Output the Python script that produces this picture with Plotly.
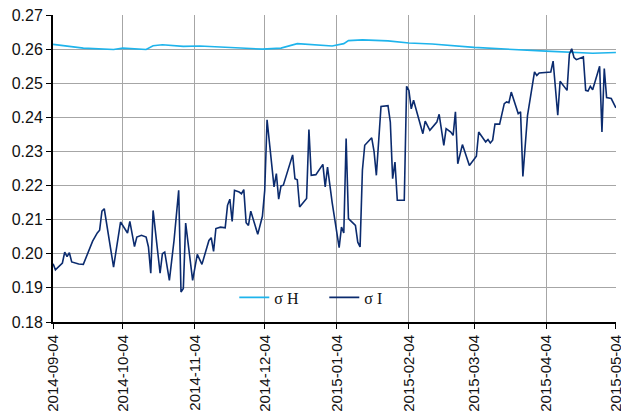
import plotly.graph_objects as go

# sigma H (smooth series)
h_dates = ["2014-09-04", "2014-09-17", "2014-09-30", "2014-10-04", "2014-10-14", "2014-10-17",
           "2014-10-21", "2014-10-30", "2014-11-06", "2014-11-20", "2014-12-03", "2014-12-11",
           "2014-12-18", "2015-01-02", "2015-01-07", "2015-01-09", "2015-01-15", "2015-01-26",
           "2015-02-04", "2015-02-14", "2015-03-04", "2015-04-04", "2015-04-14", "2015-04-24",
           "2015-05-04"]
h_values = [0.2614, 0.2603, 0.2599, 0.2603, 0.2599, 0.2610,
            0.2613, 0.2608, 0.2609, 0.2604, 0.2600, 0.2603,
            0.2616, 0.2609, 0.2616, 0.2625, 0.2627, 0.2624,
            0.2618, 0.2615, 0.2605, 0.2594, 0.2591, 0.2588,
            0.2590]

# sigma I (volatile series)
i_dates = ["2014-09-04", "2014-09-05", "2014-09-08", "2014-09-09", "2014-09-10", "2014-09-11",
           "2014-09-12", "2014-09-15", "2014-09-17", "2014-09-21", "2014-09-23", "2014-09-24",
           "2014-09-25", "2014-09-26", "2014-09-30", "2014-10-03", "2014-10-06", "2014-10-07",
           "2014-10-09", "2014-10-10", "2014-10-12", "2014-10-14", "2014-10-15", "2014-10-16",
           "2014-10-17", "2014-10-20", "2014-10-21", "2014-10-22", "2014-10-24", "2014-10-26",
           "2014-10-28", "2014-10-29", "2014-10-30", "2014-10-31", "2014-11-03", "2014-11-05",
           "2014-11-07", "2014-11-10", "2014-11-11", "2014-11-12", "2014-11-13", "2014-11-15",
           "2014-11-17", "2014-11-18", "2014-11-19", "2014-11-20", "2014-11-21", "2014-11-23",
           "2014-11-24", "2014-11-25", "2014-11-26", "2014-11-27", "2014-11-28", "2014-11-29",
           "2014-12-01", "2014-12-03", "2014-12-04", "2014-12-05", "2014-12-08", "2014-12-09",
           "2014-12-10", "2014-12-11", "2014-12-12", "2014-12-16", "2014-12-17", "2014-12-18",
           "2014-12-19", "2014-12-22", "2014-12-23", "2014-12-24", "2014-12-26", "2014-12-29",
           "2014-12-30", "2014-12-31", "2015-01-02", "2015-01-05", "2015-01-06", "2015-01-07",
           "2015-01-08", "2015-01-09", "2015-01-12", "2015-01-13", "2015-01-14", "2015-01-15",
           "2015-01-16", "2015-01-19", "2015-01-20", "2015-01-21", "2015-01-23", "2015-01-26",
           "2015-01-27", "2015-01-28", "2015-01-29", "2015-01-30", "2015-02-02", "2015-02-03",
           "2015-02-04", "2015-02-05", "2015-02-06", "2015-02-10", "2015-02-11", "2015-02-13",
           "2015-02-16", "2015-02-17", "2015-02-19", "2015-02-20", "2015-02-22", "2015-02-23",
           "2015-02-24", "2015-02-25", "2015-02-27", "2015-03-02", "2015-03-05", "2015-03-06",
           "2015-03-08", "2015-03-09", "2015-03-10", "2015-03-11", "2015-03-12", "2015-03-13",
           "2015-03-15", "2015-03-17", "2015-03-18", "2015-03-19", "2015-03-20", "2015-03-23",
           "2015-03-24", "2015-03-25", "2015-03-27", "2015-03-28", "2015-03-30", "2015-03-31",
           "2015-04-01", "2015-04-06", "2015-04-07", "2015-04-09", "2015-04-10", "2015-04-13",
           "2015-04-14", "2015-04-15", "2015-04-16", "2015-04-17", "2015-04-20", "2015-04-21",
           "2015-04-22", "2015-04-23", "2015-04-24", "2015-04-27", "2015-04-28", "2015-04-29",
           "2015-04-30", "2015-05-02", "2015-05-04"]
i_values = [0.1971, 0.1953, 0.1973, 0.2005, 0.1992, 0.2003,
            0.1976, 0.1970, 0.1969, 0.2037, 0.2061, 0.2069,
            0.2125, 0.2132, 0.1961, 0.2093, 0.2061, 0.2095,
            0.2021, 0.2049, 0.2054, 0.2049, 0.2020, 0.1943,
            0.2127, 0.1943, 0.2000, 0.2005, 0.1922, 0.2039,
            0.2186, 0.1888, 0.1898, 0.2090, 0.1922, 0.1998,
            0.1969, 0.2039, 0.2047, 0.2007, 0.2074, 0.2078,
            0.2076, 0.2142, 0.2160, 0.2095, 0.2186, 0.2181,
            0.2176, 0.2188, 0.2091, 0.2083, 0.2125, 0.2103,
            0.2057, 0.2110, 0.2186, 0.2393, 0.2196, 0.2235,
            0.2160, 0.2199, 0.2201, 0.2290, 0.2220, 0.2217,
            0.2137, 0.2162, 0.2364, 0.2230, 0.2232, 0.2262,
            0.2196, 0.2254, 0.2150, 0.2018, 0.2078, 0.2061,
            0.2338, 0.2103, 0.2083, 0.2034, 0.2020, 0.2245,
            0.2318, 0.2340, 0.2300, 0.2230, 0.2432, 0.2434,
            0.2386, 0.2220, 0.2269, 0.2157, 0.2157, 0.2491,
            0.2479, 0.2425, 0.2450, 0.2352, 0.2389, 0.2362,
            0.2386, 0.2409, 0.2318, 0.2367, 0.2357, 0.2347,
            0.2416, 0.2264, 0.2320, 0.2259, 0.2286, 0.2357,
            0.2340, 0.2328, 0.2335, 0.2325, 0.2333, 0.2380,
            0.2380, 0.2440, 0.2445, 0.2443, 0.2474, 0.2411,
            0.2416, 0.2227, 0.2406, 0.2445, 0.2533, 0.2523,
            0.2530, 0.2533, 0.2565, 0.2406, 0.2506, 0.2479,
            0.2585, 0.2601, 0.2575, 0.2569, 0.2577, 0.2479,
            0.2477, 0.2491, 0.2481, 0.2550, 0.2357, 0.2543,
            0.2458, 0.2455, 0.2428]

tick_labels = ["2014-09-04", "2014-10-04", "2014-11-04", "2014-12-04", "2015-01-04",
               "2015-02-04", "2015-03-04", "2015-04-04", "2015-05-04"]
y_ticks = [0.18, 0.19, 0.20, 0.21, 0.22, 0.23, 0.24, 0.25, 0.26, 0.27]

fig = go.Figure()
fig.add_trace(go.Scatter(x=h_dates, y=h_values, mode="lines", name="σ H",
                         line=dict(color="#1EB4EC", width=1.6)))
fig.add_trace(go.Scatter(x=i_dates, y=i_values, mode="lines", name="σ I",
                         line=dict(color="#0B2B6E", width=1.6)))

fig.update_layout(
    width=621, height=413,
    margin=dict(l=53, r=5, t=15, b=91),
    paper_bgcolor="white", plot_bgcolor="white",
    font=dict(family="Liberation Sans, Arial, sans-serif", size=15, color="#111111"),
    showlegend=True,
    legend=dict(orientation="h", x=0.322, xanchor="left", y=0.08, yanchor="middle",
                bgcolor="rgba(0,0,0,0)",
                font=dict(family="Liberation Serif, Times New Roman, serif", size=16, color="#111111"),
                entrywidth=45, entrywidthmode="pixels", itemwidth=30),
)
fig.update_xaxes(
    type="date",
    range=["2014-09-03 23:00", "2015-05-04 01:00"],
    tickvals=tick_labels, ticktext=tick_labels,
    tickangle=-90, tickfont=dict(size=15),
    ticklabeloverflow="allow",
    automargin=False,
    showgrid=True, gridcolor="#A6A6A6", gridwidth=1,
    showline=True, linecolor="black", linewidth=2,
    ticks="outside", ticklen=5, tickcolor="black", tickwidth=1,
    zeroline=False,
)
fig.update_yaxes(
    range=[0.18, 0.27],
    tickvals=y_ticks, tickformat=".2f", tickfont=dict(size=16),
    automargin=False,
    showgrid=True, gridcolor="#A6A6A6", gridwidth=1,
    showline=True, linecolor="black", linewidth=2,
    ticks="outside", ticklen=5, tickcolor="black", tickwidth=1,
    zeroline=False,
)

fig.write_html("out.html", config={"displayModeBar": False},
               post_script="document.body.style.margin='0';")
